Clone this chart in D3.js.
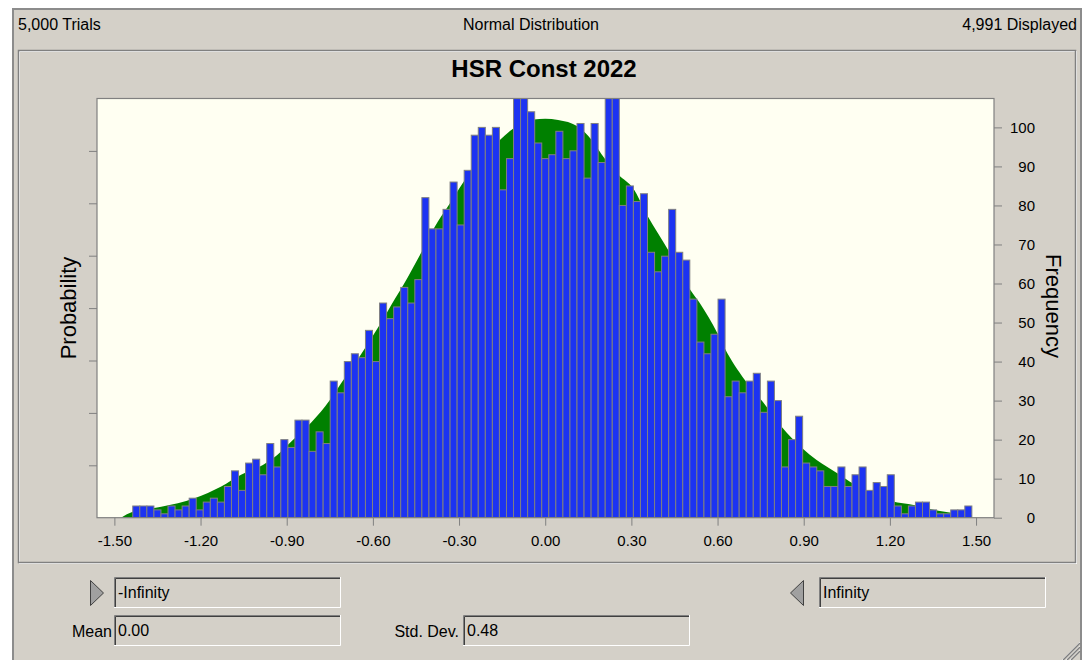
<!DOCTYPE html>
<html><head><meta charset="utf-8">
<script src="https://cdn.jsdelivr.net/npm/d3@7"></script>
<style>
html,body{margin:0;padding:0;background:#fff;}
svg{display:block;font-family:"Liberation Sans",Arial,sans-serif;}
</style></head><body>
<svg id="c" width="1085" height="660"></svg>
<script>
// ---------- data ----------
const headerLeft = "5,000 Trials";
const headerCenter = "Normal Distribution";
const headerRight = "4,991 Displayed";
const chartTitle = "HSR Const 2022";
const leftAxisTitle = "Probability";
const rightAxisTitle = "Frequency";

const binStart = -1.436;
const binWidth = 0.02455;
const counts = [
  3,3,3,2,1,3,2,3,5,2,4,5,4,8,12,7,
  14,15,11,19,13,20,18,25,25,17,22,19,35,32,40,42,41,48,40,55,51,54,
  59,55,61,82,74,74,79,86,75,89,98,100,98,100,84,92,110,112,104,96,92,
  93,99,92,94,101,87,101,91,111,111,80,85,81,83,68,63,67,79,68,66,56,
  45,42,47,56,31,35,32,35,37,27,35,30,13,20,26,14,13,12,8,8,13,
  8,11,13,7,9,8,11,3,1,3,4,4,2,1,1,2,2,3
];

const fitX = [-1.477,-1.436,-1.337,-1.221,-1.128,-1.059,-0.983,-0.934,-0.884,-0.813,-0.751,-0.710,-0.640,-0.588,-0.536,-0.478,-0.431,-0.385,-0.339,-0.292,-0.246,-0.157,-0.118,-0.040,0.000,0.045,0.114,0.161,0.207,0.256,0.306,0.355,0.428,0.506,0.538,0.600,0.625,0.695,0.753,0.823,0.895,0.945,1.017,1.061,1.214,1.264,1.369,1.413,1.485];
const fitY = [0,1.5,2.8,5.0,8.0,11.0,13.5,16.0,19.5,24.5,30.0,34.5,42.0,48.0,54.5,61.7,68.0,74.5,79.7,85.2,90.0,96.8,99.3,102.0,102.2,101.9,100.2,96.8,92.0,87.8,84.4,77.5,68.6,58.3,55.0,47.2,43.4,35.3,30.1,23.3,17.8,14.8,11.4,9.2,4.1,3.5,1.8,1.3,0.7];

const xTicks = [-1.50,-1.20,-0.90,-0.60,-0.30,0.00,0.30,0.60,0.90,1.20,1.50];
const freqTicks = [0,10,20,30,40,50,60,70,80,90,100];
const probTicks = [1,2,3,4,5,6,7];   // unlabeled divisions of the probability axis (of 8)

const leftLimit = "-Infinity";
const rightLimit = "Infinity";
const meanText = "0.00";
const sdText = "0.48";

// ---------- layout ----------
const svg = d3.select("#c");
const BG = "#d4d0c8";
const P = {l: 97, r: 994, t: 98.5, b: 517.7};

svg.append("rect").attr("width",1085).attr("height",660).attr("fill","#fff");
// dialog
svg.append("rect").attr("x",12).attr("y",8).attr("width",1070).attr("height",660).attr("fill",BG);
svg.append("path").attr("d","M13,668V9H1081V668").attr("fill","none").attr("stroke","#8c8c8c").attr("stroke-width",2);

// header
const hdr = svg.append("g").attr("font-size",16).attr("fill","#000");
hdr.append("text").attr("x",18).attr("y",30).text(headerLeft);
hdr.append("text").attr("x",531).attr("y",30).attr("text-anchor","middle").text(headerCenter);
hdr.append("text").attr("x",1077).attr("y",30).attr("text-anchor","end").text(headerRight);

// chart panel
svg.append("rect").attr("x",19.5).attr("y",51.5).attr("width",1057).attr("height",512).attr("fill","none").attr("stroke","#fff");
svg.append("rect").attr("x",18.5).attr("y",50.5).attr("width",1057).attr("height",512).attr("fill","none").attr("stroke","#808080").attr("stroke-width",1.5);

svg.append("text").attr("x",544).attr("y",77).attr("text-anchor","middle")
  .attr("font-size",24).attr("font-weight","bold").attr("fill","#000").text(chartTitle);

// scales
const x = d3.scaleLinear().domain([-1.5605, 1.5625]).range([P.l, P.r]);
const y = d3.scaleLinear().domain([0, 107.4]).range([P.b, P.t]);
const yp = d3.scaleLinear().domain([0, 8]).range([P.b, P.t]);

svg.append("defs").append("clipPath").attr("id","plotclip")
  .append("rect").attr("x",P.l).attr("y",P.t).attr("width",P.r-P.l).attr("height",P.b-P.t);

svg.append("rect").attr("x",P.l).attr("y",P.t).attr("width",P.r-P.l).attr("height",P.b-P.t).attr("fill","#fffff2");

const plot = svg.append("g").attr("clip-path","url(#plotclip)");

const fitPts = fitX.map((v,i)=>[v, fitY[i]]);
plot.append("path").datum(fitPts)
  .attr("d", d3.area().x(d=>x(d[0])).y0(y(0)).y1(d=>y(d[1])).curve(d3.curveMonotoneX))
  .attr("fill","#008000");

plot.selectAll("rect.bar").data(counts).join("rect").attr("class","bar")
  .attr("x",(d,i)=>x(binStart+i*binWidth))
  .attr("width",(d,i)=>x(binStart+(i+1)*binWidth)-x(binStart+i*binWidth))
  .attr("y",d=>y(d))
  .attr("height",d=>y(0)-y(d))
  .attr("fill","#1c33f2").attr("stroke","#808080").attr("stroke-width",1);

svg.append("rect").attr("x",P.l).attr("y",P.t).attr("width",P.r-P.l).attr("height",P.b-P.t)
  .attr("fill","none").attr("stroke","#808080").attr("stroke-width",1.2);

// axes
const fmt = d => d.toFixed(2);
const gx = svg.append("g").attr("transform",`translate(0,${P.b})`)
  .call(d3.axisBottom(x).tickValues(xTicks).tickFormat(fmt).tickSize(8).tickPadding(10));
const gr = svg.append("g").attr("transform",`translate(${P.r},0)`)
  .call(d3.axisRight(y).tickValues(freqTicks).tickFormat(d3.format("d")).tickSize(8));
gr.selectAll("text").attr("x",41).attr("text-anchor","end");
const gl = svg.append("g").attr("transform",`translate(${P.l},0)`)
  .call(d3.axisLeft(yp).tickValues(probTicks).tickFormat("").tickSize(8));
[gx,gr,gl].forEach(g=>{
  g.select(".domain").remove();
  g.selectAll("line").attr("stroke","#808080");
  g.selectAll("text").attr("font-size",15).attr("fill","#000")
    .attr("font-family",'"Liberation Sans",Arial,sans-serif');
});

svg.append("text").attr("transform","translate(76,308) rotate(-90)").attr("text-anchor","middle")
  .attr("font-size",22).attr("fill","#000").text(leftAxisTitle);
svg.append("text").attr("transform","translate(1046,306) rotate(90)").attr("text-anchor","middle")
  .attr("font-size",22).attr("fill","#000").text(rightAxisTitle);

// bottom controls
function field(x0,y0,w,h,txt){
  const g = svg.append("g");
  g.append("rect").attr("x",x0).attr("y",y0).attr("width",w).attr("height",h).attr("fill",BG);
  g.append("path").attr("d",`M${x0+0.5},${y0+h}V${y0+0.5}H${x0+w}`).attr("fill","none").attr("stroke","#808080");
  g.append("path").attr("d",`M${x0+1.5},${y0+h-1}V${y0+1.5}H${x0+w-1}`).attr("fill","none").attr("stroke","#404040");
  g.append("path").attr("d",`M${x0},${y0+h-0.5}H${x0+w-0.5}V${y0}`).attr("fill","none").attr("stroke","#fff");
  g.append("text").attr("x",x0+4).attr("y",y0+h/2+5.5).attr("font-size",16).attr("fill","#000").text(txt);
}
field(114,577,227,31,leftLimit);
field(819,577,227,31,rightLimit);
field(114,615,227,31,meanText);
field(463,615,227,31,sdText);

svg.append("text").attr("x",112).attr("y",637).attr("text-anchor","end").attr("font-size",16).attr("fill","#000").text("Mean");
svg.append("text").attr("x",459).attr("y",637).attr("text-anchor","end").attr("font-size",16).attr("fill","#000").text("Std. Dev.");

svg.append("path").attr("d","M90.5,580.5L90.5,605.5L103.5,593Z").attr("fill","#a0a0a0").attr("stroke","#404040");
svg.append("path").attr("d","M803.5,580.5L803.5,605.5L790.5,593Z").attr("fill","#a0a0a0").attr("stroke","#404040");

// resize grip
const grip = svg.append("g");
[0,4,8].forEach(o=>{
  grip.append("line").attr("x1",1080-o-10).attr("y1",660).attr("x2",1080).attr("y2",660-o-10).attr("stroke","#fff");
  grip.append("line").attr("x1",1080-o-9).attr("y1",660).attr("x2",1080).attr("y2",660-o-9).attr("stroke","#808080").attr("stroke-width",1.5);
});
</script>
</body></html>
